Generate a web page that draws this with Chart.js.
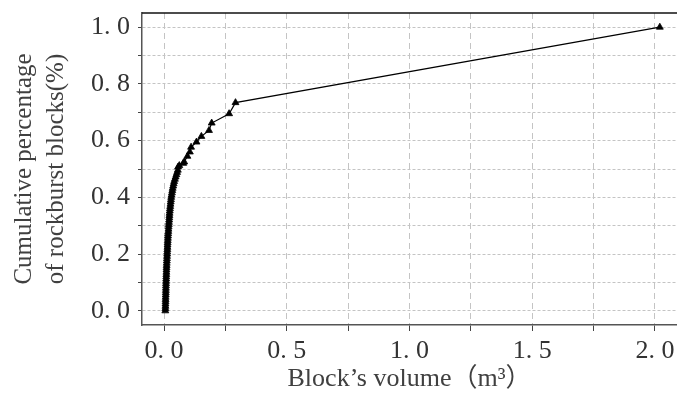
<!DOCTYPE html>
<html>
<head>
<meta charset="utf-8">
<script src="https://cdn.jsdelivr.net/npm/chart.js@4"></script>
<style>
  html, body { margin: 0; padding: 0; background: #fff; }
  #wrap { width: 677px; height: 395px; }
</style>
</head>
<body>
<div id="wrap"><canvas id="volume"></canvas></div>
<script>
// block volume (m3) and cumulative share of blocks
const volumes = [0.0050, 0.0052, 0.0055, 0.0057, 0.0060, 0.0062, 0.0064, 0.0067, 0.0069, 0.0072,
  0.0074, 0.0076, 0.0079, 0.0081, 0.0085, 0.0088, 0.0091, 0.0094, 0.0097, 0.0100,
  0.0104, 0.0108, 0.0112, 0.0116, 0.0120, 0.0125, 0.0129, 0.0133, 0.0137, 0.0141,
  0.0145, 0.0149, 0.0154, 0.0160, 0.0166, 0.0172, 0.0178, 0.0185, 0.0191, 0.0198,
  0.0205, 0.0212, 0.0218, 0.0224, 0.0232, 0.0240, 0.0250, 0.0260, 0.0270, 0.0280,
  0.0290, 0.0305, 0.0320, 0.0335, 0.0350, 0.0370, 0.0390, 0.0410, 0.0440, 0.0470,
  0.0500, 0.0530, 0.0560, 0.0570, 0.062, 0.078, 0.082, 0.095, 0.105, 0.110,
  0.132, 0.152, 0.183, 0.194, 0.265, 0.291, 2.02];
const cumulative = [0.000, 0.008, 0.016, 0.024, 0.032, 0.040, 0.048, 0.056, 0.064, 0.072,
  0.080, 0.088, 0.096, 0.104, 0.112, 0.120, 0.128, 0.136, 0.144, 0.152,
  0.160, 0.168, 0.176, 0.184, 0.192, 0.200, 0.208, 0.216, 0.224, 0.232,
  0.240, 0.248, 0.256, 0.264, 0.272, 0.280, 0.288, 0.296, 0.304, 0.312,
  0.320, 0.328, 0.336, 0.344, 0.352, 0.360, 0.368, 0.376, 0.384, 0.392,
  0.400, 0.408, 0.416, 0.424, 0.432, 0.440, 0.448, 0.456, 0.464, 0.472,
  0.480, 0.488, 0.496, 0.507, 0.512, 0.520, 0.525, 0.545, 0.560, 0.577,
  0.595, 0.615, 0.636, 0.662, 0.695, 0.734, 1.000];

const xTicks = [0, 0.25, 0.5, 0.75, 1.0, 1.25, 1.5, 1.75, 2.0];
const xTickLabels = ['0. 0', '', '0. 5', '', '1. 0', '', '1. 5', '', '2. 0'];
const yTicks = [0, 0.1, 0.2, 0.3, 0.4, 0.5, 0.6, 0.7, 0.8, 0.9, 1.0];
const yTickLabels = ['0. 0', '', '0. 2', '', '0. 4', '', '0. 6', '', '0. 8', '', '1. 0'];

const points = volumes.map((v, i) => ({ x: v, y: cumulative[i] }));

// top frame line
const topBorder = {
  id: 'topBorder',
  afterDraw(chart) {
    const c = chart.ctx, a = chart.chartArea;
    c.save();
    c.strokeStyle = '#111';
    c.lineWidth = 1.5;
    c.beginPath();
    c.moveTo(a.left, a.top);
    c.lineTo(a.right, a.top);
    c.stroke();
    c.restore();
  }
};

const serif = '"Liberation Serif", "Times New Roman", "Noto Sans CJK SC", serif';

const ctx = document.getElementById('volume').getContext('2d');
const volumeChart = new Chart(ctx, {
  type: 'scatter',
  data: {
    datasets: [{
      data: points,
      showLine: true,
      borderColor: '#000',
      borderWidth: 1.2,
      pointStyle: 'triangle',
      pointRadius: 4,
      pointBackgroundColor: '#000',
      pointBorderColor: '#000',
      pointBorderWidth: 0.8,
    }]
  },
  options: {
    responsive: true,
    maintainAspectRatio: false,
    animation: false,
    layout: { autoPadding: false, padding: { top: 13, left: 0, right: 0, bottom: 0 } },
    plugins: { legend: { display: false }, tooltip: { enabled: false } },
    scales: {
      x: {
        type: 'linear',
        min: -0.09,
        max: 2.09,
        afterFit: s => { s.height = 70; s.paddingLeft = 0; s.paddingRight = 0; },
        afterBuildTicks: s => { s.ticks = xTicks.map(v => ({ value: v })); },
        ticks: {
          autoSkip: false,
          maxRotation: 0,
          padding: 5,
          color: '#333',
          font: { family: serif, size: 26 },
          callback: (v, i) => xTickLabels[i],
        },
        grid: {
          color: '#c4c4c4',
          tickLength: 6,
          tickColor: '#444',
          tickBorderDash: [],
        },
        border: { display: true, color: '#555', width: 1.5, dash: [6, 4] },
        title: {
          display: true,
          text: 'Block’s volume（m³）',
          color: '#404040',
          font: { family: serif, size: 26 },
          padding: { top: 0, bottom: 0 },
        },
      },
      y: {
        type: 'linear',
        min: -0.05,
        max: 1.05,
        afterFit: s => { s.width = 142; s.paddingTop = 0; s.paddingBottom = 0; },
        afterBuildTicks: s => { s.ticks = yTicks.map(v => ({ value: v })); },
        ticks: {
          autoSkip: false,
          padding: 8,
          color: '#333',
          font: { family: serif, size: 26 },
          callback: (v, i) => yTickLabels[i],
        },
        grid: {
          color: '#c4c4c4',
          tickLength: 4,
          tickColor: '#444',
          tickBorderDash: [],
        },
        border: { display: true, color: '#555', width: 1.5, dash: [3, 2] },
        title: {
          display: true,
          text: ['Cumulative percentage', 'of rockburst blocks(%)'],
          color: '#404040',
          font: { family: serif, size: 25, lineHeight: 1.28 },
          padding: { top: 8, bottom: 0 },
        },
      }
    }
  },
  plugins: [topBorder]
});
</script>
</body>
</html>
